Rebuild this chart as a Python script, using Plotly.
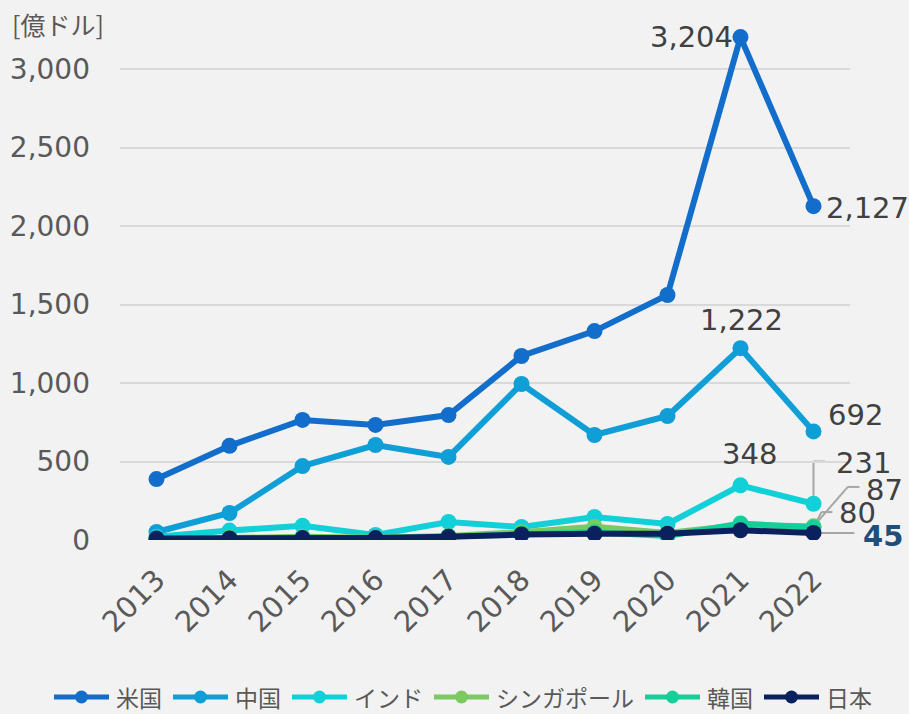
import plotly.graph_objects as go

years = ["2013", "2014", "2015", "2016", "2017", "2018", "2019", "2020", "2021", "2022"]
us = [388, 600, 765, 733, 796, 1172, 1331, 1561, 3204, 2127]
china = [51, 172, 471, 605, 529, 994, 669, 790, 1222, 692]
india = [20, 60, 90, 32, 115, 83, 147, 102, 348, 231]
singapore = [5, 15, 20, 15, 25, 50, 85, 45, 95, 87]
korea = [5, 10, 15, 8, 25, 40, 50, 25, 105, 80]
japan = [10, 10, 12, 12, 20, 35, 40, 40, 62, 45]

names = ["米国", "中国", "インド", "シンガポール", "韓国", "日本"]
colors = ["#126ECA", "#0F9ED5", "#11D0D8", "#7BC960", "#14CF9A", "#0A215E"]
series = [us, china, india, singapore, korea, japan]

FONT = "DejaVu Sans"
CJK = "Noto Sans CJK JP"
TXT = "#404040"
TICK = "#595959"
YMAX = 3300
NCAT = len(years)

W, H = 909, 714
ML, MR, MT, MB = 120, 59, 22, 174
PW, PH = W - ML - MR, H - MT - MB

fig = go.Figure()
for i in range(len(series)):
    fig.add_trace(go.Scatter(
        x=years, y=series[i], name=names[i], mode="lines+markers",
        line=dict(color=colors[i], width=6),
        marker=dict(color=colors[i], size=16),
        showlegend=False,
    ))

ann = []
def lab(idx, y, text, xshift=0, yshift=0, xanchor="center", color=TXT, bold=False):
    ann.append(dict(x=idx, y=y, xref="x", yref="y",
                    text=("<b>%s</b>" % text) if bold else text,
                    showarrow=False, xshift=xshift, yshift=yshift, xanchor=xanchor,
                    font=dict(family=FONT, size=29, color=color)))

lab(8, us[8], f"{us[8]:,}", xshift=-6, yshift=0, xanchor="right")
lab(9, us[9], f"{us[9]:,}", xshift=10, yshift=-2, xanchor="left")
lab(8, china[8], f"{china[8]:,}", xshift=1, yshift=28)
lab(9, china[9], f"{china[9]:,}", xshift=12, yshift=16, xanchor="left")
lab(8, india[8], f"{india[8]:,}", xshift=9, yshift=31)
lab(9, india[9], f"{india[9]:,}", xshift=50, yshift=41)
lab(9, singapore[9], f"{singapore[9]:,}", xshift=71, yshift=36)
lab(9, korea[9], f"{korea[9]:,}", xshift=44, yshift=14)
lab(9, japan[9], f"{japan[9]:,}", xshift=69, yshift=-3, color="#1F4E79", bold=True)

# y-axis unit label
ann.append(dict(x=0.0, y=1.0, xref="paper", yref="paper", xanchor="left", yanchor="middle",
                xshift=-110, yshift=-2, text="[億ドル]", showarrow=False,
                font=dict(family=CJK, size=25, color=TICK)))

shapes = []
# leader lines: category index / value -> paper coords (not clipped)
def px(idx):
    return (idx + 0.5) / NCAT
def py(v):
    return v / YMAX

gray = "#A6A6A6"
def seg(x0, y0, x1, y1):
    shapes.append(dict(type="line", xref="paper", yref="paper",
                       x0=px(x0), y0=py(y0), x1=px(x1), y1=py(y1),
                       line=dict(color=gray, width=2), layer="below"))

seg(9, india[9], 9, 500)
seg(9, 500, 9.16, 500)
seg(9, singapore[9], 9.47, 338)
seg(9.47, 338, 9.63, 338)
seg(9, korea[9], 9.11, 178)
seg(9.11, 178, 9.26, 178)
seg(9, japan[9], 9.56, japan[9])

# custom legend (pixel layout converted to paper coords)
LEG_FS = 23
LINE_LEN, TXT_GAP, ITEM_GAP = 55, 5, 13
def text_w(s):
    return LEG_FS * len(s)
total = sum(LINE_LEN + TXT_GAP + text_w(n) for n in names) + ITEM_GAP * (len(names) - 1)
cx = 462
xpos = cx - total / 2
ly_px = 697
def ppx(x):
    return (x - ML) / PW
ly = (MT + PH - ly_px) / PH
for name, col in zip(names, colors):
    shapes.append(dict(type="line", xref="paper", yref="paper",
                       x0=ppx(xpos), x1=ppx(xpos + LINE_LEN), y0=ly, y1=ly,
                       line=dict(color=col, width=5)))
    shapes.append(dict(type="circle", xref="paper", yref="paper",
                       xsizemode="pixel", ysizemode="pixel",
                       xanchor=ppx(xpos + LINE_LEN / 2), yanchor=ly,
                       x0=-6.5, x1=6.5, y0=-6.5, y1=6.5,
                       fillcolor=col, line=dict(color=col, width=0)))
    ann.append(dict(x=ppx(xpos + LINE_LEN + TXT_GAP), y=ly, xref="paper", yref="paper",
                    xanchor="left", yanchor="middle", text=name, showarrow=False,
                    font=dict(family=CJK, size=LEG_FS, color=TICK)))
    xpos += LINE_LEN + TXT_GAP + text_w(name) + ITEM_GAP

fig.update_layout(
    width=W, height=H,
    paper_bgcolor="#F2F2F2", plot_bgcolor="#F2F2F2",
    margin=dict(l=ML, r=MR, t=MT, b=MB, autoexpand=False),
    font=dict(family=FONT, color=TICK),
    xaxis=dict(type="category", range=[-0.5, NCAT - 0.5], showgrid=False, zeroline=False,
               tickangle=-45, tickfont=dict(family=FONT, size=29, color=TICK),
               ticks="", showline=False, automargin=False, ticklabelstandoff=16),
    yaxis=dict(range=[0, YMAX], tickvals=[0, 500, 1000, 1500, 2000, 2500, 3000],
               tickformat=",", gridcolor="#D9D9D9", gridwidth=2, zeroline=False,
               tickfont=dict(family=FONT, size=28, color=TICK), ticks="",
               ticklabelstandoff=29, automargin=False),
    annotations=ann,
    shapes=shapes,
    showlegend=False,
)

fig.write_html("out.html", config={"displayModeBar": False},
               post_script="document.body.style.margin='0';")
